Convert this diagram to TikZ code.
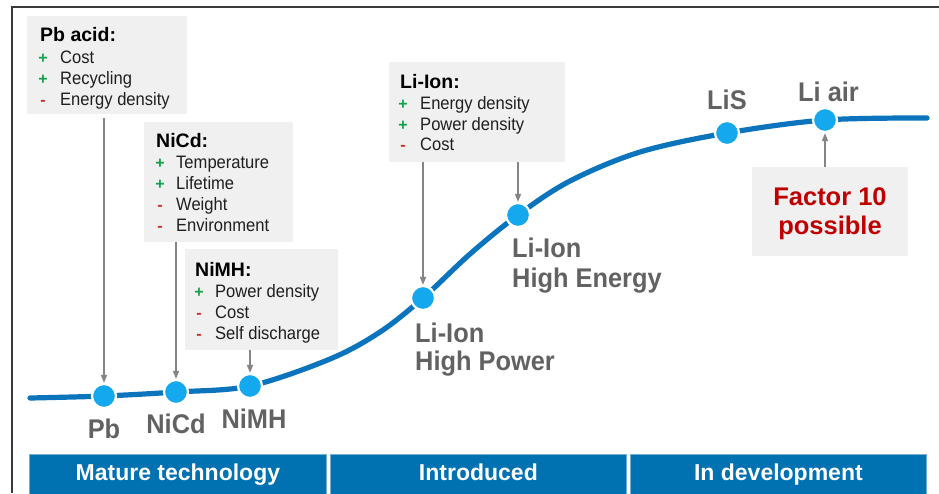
\documentclass[tikz,border=0pt]{standalone}
\usepackage{fontspec}
\setmainfont{Liberation Sans}
\newfontfamily\nsans[FakeStretch=0.92]{Liberation Sans}
\newfontfamily\lsans[FakeStretch=0.94]{Liberation Sans}
\usetikzlibrary{arrows.meta}
\definecolor{boxgray}{HTML}{F0F0F0}
\definecolor{curveblue}{HTML}{0B74BC}
\definecolor{dotblue}{HTML}{14A8EE}
\definecolor{barblue}{HTML}{0071B1}
\definecolor{labgray}{HTML}{626262}
\definecolor{arrgray}{HTML}{858585}
\definecolor{plusgreen}{HTML}{14A04C}
\definecolor{minusred}{HTML}{D02A2A}
\definecolor{factred}{HTML}{C00000}
\definecolor{framegray}{HTML}{3A3A3A}
\tikzset{
  infobox/.style={fill=boxgray, draw=none, anchor=north west, inner sep=0pt},
  ttl/.style={anchor=base west, inner sep=0pt, font=\bfseries\fontsize{19.5}{22}\selectfont},
  itm/.style={anchor=base west, inner sep=0pt, text=black!88, font=\nsans\fontsize{18}{21}\selectfont},
  pm/.style={anchor=base, inner sep=0pt, font=\bfseries\fontsize{16}{18}\selectfont},
  pl/.style={pm, text=plusgreen},
  mi/.style={pm, text=minusred},
  biglab/.style={anchor=base west, inner sep=0pt, text=labgray, font=\lsans\bfseries\fontsize{27}{30}\selectfont},
  dot/.style={circle, fill=dotblue, draw=white, line width=2.2pt, minimum size=24pt, inner sep=0pt},
  arr/.style={draw=arrgray, line width=1.5pt, -{Triangle[length=8pt,width=6pt]}},
  bar/.style={fill=barblue, draw=barblue!55!white, line width=0.8pt, anchor=north west, minimum height=40pt, inner sep=0pt, text=white, font=\bfseries\fontsize{23}{26}\selectfont, text height=17pt, text depth=5pt}
}
\begin{document}
\begin{tikzpicture}[x=1pt,y=-1pt]
\useasboundingbox (0,0) rectangle (939,493);
\fill[white] (0,0) rectangle (939,493);
% frame
\draw[framegray, line width=1.6pt] (12,493) -- (12,7) -- (939,7);

% info boxes
\node[infobox, minimum width=160pt, minimum height=98pt] (pbbox) at (27,16) {};
\node[ttl] (pbt) at (40,41) {Pb acid:};
\node[pl] (pb1s) at (43,63) {+};  \node[itm] (pb1) at (60,63) {Cost};
\node[pl] (pb2s) at (43,84) {+};  \node[itm] (pb2) at (60,84) {Recycling};
\node[mi] (pb3s) at (43,105) {-}; \node[itm] (pb3) at (60,105) {Energy density};

\node[infobox, minimum width=149pt, minimum height=120pt] (nicdbox) at (144,122) {};
\node[ttl] (nicdt) at (156,147) {NiCd:};
\node[pl] (nc1s) at (160,168) {+};  \node[itm] (nc1) at (176,168) {Temperature};
\node[pl] (nc2s) at (160,189) {+};  \node[itm] (nc2) at (176,189) {Lifetime};
\node[mi] (nc3s) at (160,210) {-};  \node[itm] (nc3) at (176,210) {Weight};
\node[mi] (nc4s) at (160,231) {-};  \node[itm] (nc4) at (176,231) {Environment};

\node[infobox, minimum width=153pt, minimum height=101pt] (nimhbox) at (185,249) {};
\node[ttl] (nimht) at (195,276) {NiMH:};
\node[pl] (nm1s) at (199,297) {+};  \node[itm] (nm1) at (215,297) {Power density};
\node[mi] (nm2s) at (199,318) {-};  \node[itm] (nm2) at (215,318) {Cost};
\node[mi] (nm3s) at (199,339) {-};  \node[itm] (nm3) at (215,339) {Self discharge};

\node[infobox, minimum width=176pt, minimum height=100pt] (libox) at (389,62) {};
\node[ttl] (lit) at (400,88) {Li-Ion:};
\node[pl] (li1s) at (403,109) {+};  \node[itm] (li1) at (420,109) {Energy density};
\node[pl] (li2s) at (403,130) {+};  \node[itm] (li2) at (420,130) {Power density};
\node[mi] (li3s) at (403,150) {-};  \node[itm] (li3) at (420,150) {Cost};

\node[infobox, minimum width=156pt, minimum height=89pt] (facbox) at (752,167) {};
\node[anchor=base, inner sep=0pt, text=factred, font=\bfseries\fontsize{25.5}{30}\selectfont] (fac1) at (830,205) {Factor 10};
\node[anchor=base, inner sep=0pt, text=factred, font=\bfseries\fontsize{25.5}{30}\selectfont] (fac2) at (830,234) {possible};

% curve
\draw[curveblue, line width=5.2pt, line cap=round] plot[smooth, tension=0.55] coordinates {
 (30,398) (104,396) (176,392) (250,386) (330,359) (380,332) (423,298) (470,254) (518,215) (570,181) (640,152) (727,133) (825,120) (927,118)};

% dots
\node[dot] (pb) at (104,396) {};
\node[dot] (nicd) at (176,392) {};
\node[dot] (nimh) at (250,386) {};
\node[dot] (lihp) at (423,298) {};
\node[dot] (lihe) at (518,215) {};
\node[dot] (lis) at (727,133) {};
\node[dot] (liair) at (825,120) {};

% arrows
\draw[arr] ([yshift=-4pt]pbbox.south -| pb) -- (pb);
\draw[arr] (nicdbox.south -| nicd) -- (nicd);
\draw[arr] (nimhbox.south -| nimh) -- (nimh);
\draw[arr] (libox.south -| lihp) -- (lihp);
\draw[arr] (libox.south -| lihe) -- (lihe);
\draw[arr] (facbox.north -| liair) -- (liair);

% labels
\node[biglab, anchor=base] (pbl) at (104,438) {Pb};
\node[biglab, anchor=base] (nicdl) at (176,433) {NiCd};
\node[biglab, anchor=base] (nimhl) at (254,428) {NiMH};
\node[biglab] (lihpl1) at (415,342) {Li-Ion};
\node[biglab] (lihpl2) at (415,370) {High Power};
\node[biglab] (lihel1) at (512,257) {Li-Ion};
\node[biglab] (lihel2) at (512,287) {High Energy};
\node[biglab] (lisl) at (707,109) {LiS};
\node[biglab] (liairl) at (798,101) {Li air};

% bars
\node[bar, minimum width=297pt] (bar1) at (29,454) {Mature technology};
\node[bar, minimum width=296pt] (bar2) at (330,454) {Introduced};
\node[bar, minimum width=296pt] (bar3) at (630,454) {In development};
\end{tikzpicture}
\end{document}
